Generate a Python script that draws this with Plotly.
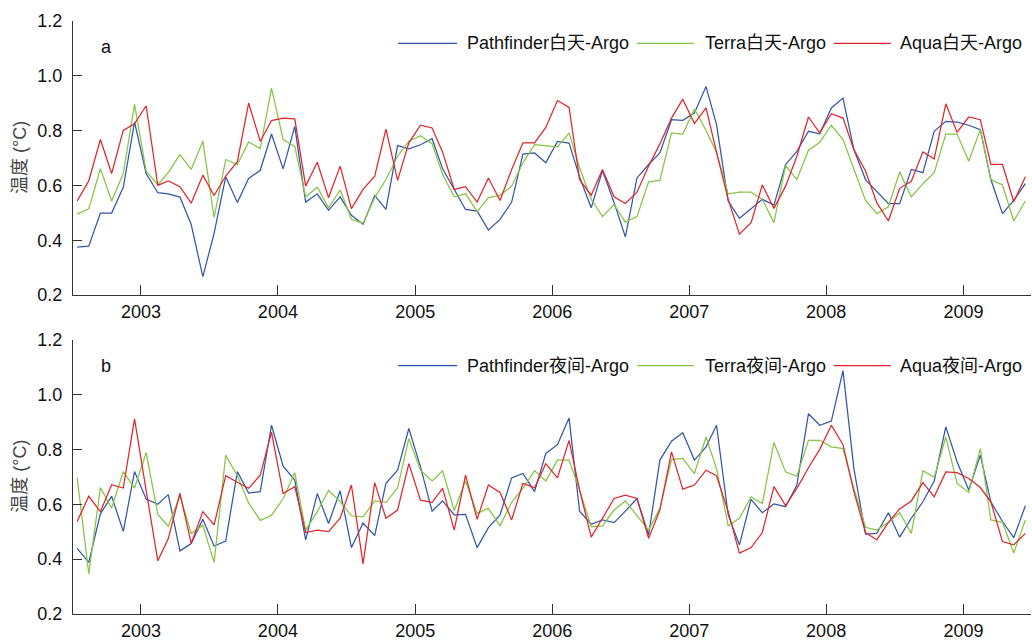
import pandas as pd
import plotly.graph_objects as go

# Monthly mean differences (satellite SST minus Argo), Jul 2002 - Jun 2009
months = pd.date_range("2002-07-01", periods=84, freq="MS") + pd.Timedelta(days=14)

year_ticks = [f"{y}-01-01" for y in range(2003, 2010)]
year_labels = [str(y) for y in range(2003, 2010)]
y_ticks = [0.2, 0.4, 0.6, 0.8, 1.0, 1.2]

day_pathfinder = [
    0.375, 0.378, 0.499, 0.499, 0.593, 0.830, 0.643, 0.573, 0.569, 0.557, 0.457, 0.267,
    0.425, 0.631, 0.537, 0.625, 0.655, 0.787, 0.660, 0.815, 0.539, 0.569, 0.509, 0.558,
    0.491, 0.458, 0.563, 0.512, 0.745, 0.733, 0.748, 0.770, 0.660, 0.585, 0.512, 0.506,
    0.437, 0.476, 0.539, 0.714, 0.718, 0.682, 0.760, 0.754, 0.630, 0.518, 0.654, 0.537,
    0.412, 0.627, 0.676, 0.718, 0.839, 0.837, 0.863, 0.960, 0.821, 0.543, 0.480, 0.515,
    0.549, 0.528, 0.676, 0.724, 0.797, 0.788, 0.882, 0.918, 0.730, 0.621, 0.579, 0.533,
    0.533, 0.658, 0.646, 0.797, 0.833, 0.830, 0.819, 0.803, 0.621, 0.497, 0.545, 0.606,
]
day_terra = [
    0.495, 0.514, 0.661, 0.543, 0.643, 0.895, 0.652, 0.602, 0.647, 0.712, 0.658, 0.761,
    0.483, 0.694, 0.676, 0.758, 0.734, 0.954, 0.767, 0.742, 0.558, 0.593, 0.518, 0.583,
    0.476, 0.462, 0.555, 0.621, 0.706, 0.761, 0.781, 0.752, 0.639, 0.558, 0.569, 0.504,
    0.555, 0.563, 0.597, 0.682, 0.748, 0.745, 0.740, 0.791, 0.664, 0.549, 0.486, 0.530,
    0.466, 0.486, 0.613, 0.618, 0.791, 0.787, 0.878, 0.800, 0.720, 0.569, 0.575, 0.575,
    0.549, 0.464, 0.672, 0.621, 0.728, 0.757, 0.819, 0.767, 0.658, 0.545, 0.497, 0.522,
    0.649, 0.558, 0.606, 0.646, 0.787, 0.787, 0.688, 0.803, 0.621, 0.601, 0.470, 0.543,
]
day_aqua = [
    0.543, 0.616, 0.767, 0.643, 0.800, 0.824, 0.890, 0.600, 0.616, 0.595, 0.535, 0.637,
    0.563, 0.634, 0.686, 0.900, 0.760, 0.836, 0.845, 0.842, 0.597, 0.684, 0.555, 0.670,
    0.515, 0.585, 0.633, 0.805, 0.618, 0.755, 0.819, 0.809, 0.721, 0.585, 0.595, 0.539,
    0.627, 0.545, 0.658, 0.755, 0.755, 0.811, 0.909, 0.884, 0.621, 0.564, 0.658, 0.558,
    0.534, 0.575, 0.670, 0.751, 0.845, 0.914, 0.825, 0.882, 0.720, 0.549, 0.422, 0.464,
    0.601, 0.516, 0.597, 0.706, 0.849, 0.791, 0.861, 0.845, 0.730, 0.652, 0.537, 0.470,
    0.589, 0.615, 0.722, 0.696, 0.897, 0.793, 0.849, 0.839, 0.676, 0.676, 0.540, 0.631,
]

night_pathfinder = [
    0.439, 0.388, 0.565, 0.629, 0.501, 0.719, 0.619, 0.600, 0.635, 0.430, 0.457, 0.545,
    0.448, 0.466, 0.719, 0.641, 0.646, 0.888, 0.739, 0.688, 0.470, 0.639, 0.530, 0.649,
    0.442, 0.531, 0.486, 0.676, 0.724, 0.876, 0.736, 0.575, 0.612, 0.561, 0.563, 0.442,
    0.515, 0.561, 0.696, 0.712, 0.646, 0.785, 0.817, 0.914, 0.575, 0.527, 0.543, 0.533,
    0.575, 0.621, 0.488, 0.761, 0.830, 0.861, 0.761, 0.809, 0.888, 0.561, 0.452, 0.618,
    0.569, 0.601, 0.591, 0.670, 0.930, 0.888, 0.903, 1.087, 0.730, 0.491, 0.494, 0.569,
    0.480, 0.549, 0.609, 0.685, 0.882, 0.755, 0.652, 0.779, 0.609, 0.537, 0.478, 0.595,
]
night_terra = [
    0.698, 0.346, 0.661, 0.586, 0.719, 0.659, 0.788, 0.563, 0.520, 0.631, 0.493, 0.523,
    0.388, 0.778, 0.704, 0.605, 0.541, 0.560, 0.620, 0.715, 0.506, 0.573, 0.650, 0.610,
    0.558, 0.554, 0.612, 0.607, 0.660, 0.839, 0.724, 0.685, 0.722, 0.577, 0.685, 0.567,
    0.585, 0.522, 0.607, 0.658, 0.722, 0.685, 0.761, 0.761, 0.652, 0.518, 0.521, 0.579,
    0.612, 0.561, 0.506, 0.585, 0.763, 0.767, 0.712, 0.845, 0.730, 0.522, 0.549, 0.627,
    0.603, 0.825, 0.718, 0.702, 0.833, 0.833, 0.809, 0.803, 0.658, 0.516, 0.506, 0.534,
    0.569, 0.494, 0.722, 0.698, 0.845, 0.676, 0.643, 0.803, 0.543, 0.534, 0.422, 0.543,
]
night_aqua = [
    0.537, 0.629, 0.573, 0.671, 0.659, 0.911, 0.650, 0.394, 0.475, 0.640, 0.457, 0.573,
    0.525, 0.704, 0.680, 0.658, 0.706, 0.863, 0.639, 0.664, 0.497, 0.506, 0.500, 0.549,
    0.670, 0.383, 0.679, 0.549, 0.579, 0.748, 0.615, 0.607, 0.658, 0.506, 0.706, 0.545,
    0.670, 0.643, 0.543, 0.676, 0.660, 0.748, 0.696, 0.833, 0.652, 0.480, 0.549, 0.621,
    0.633, 0.621, 0.476, 0.579, 0.791, 0.655, 0.670, 0.724, 0.704, 0.573, 0.422, 0.442,
    0.497, 0.664, 0.595, 0.658, 0.733, 0.800, 0.888, 0.817, 0.646, 0.497, 0.470, 0.534,
    0.583, 0.612, 0.679, 0.627, 0.718, 0.715, 0.694, 0.661, 0.609, 0.464, 0.452, 0.494,
]

BLUE = "#3357a8"
GREEN = "#86c444"
RED = "#e0262d"
AXIS = "#333333"
FONT = "Liberation Sans, Arial, Noto Sans CJK SC, sans-serif"

W, H = 1032, 642
ML, MR, MT, MB = 73, 1, 20, 26
PW, PH = W - ML - MR, H - MT - MB


def px(xp):
    return (xp - ML) / PW


def py(yp):
    return (H - MB - yp) / PH


panels = [
    dict(key="a", data=[day_pathfinder, day_terra, day_aqua],
         names=["Pathfinder白天-Argo", "Terra白天-Argo", "Aqua白天-Argo"],
         top=20.7, bottom=296.0, legend_y=43.5, label_y=47),
    dict(key="b", data=[night_pathfinder, night_terra, night_aqua],
         names=["Pathfinder夜间-Argo", "Terra夜间-Argo", "Aqua夜间-Argo"],
         top=340.7, bottom=616.0, legend_y=366.7, label_y=367),
]
colors = [BLUE, GREEN, RED]

# legend layout: line start/end and text start in pixels
legend_cols = [(398, 457, 465), (637, 694, 703), (834, 891, 898)]

fig = go.Figure()
annotations = []
shapes = []
layout_axes = {}

for n, p in enumerate(panels, start=1):
    xa = "x" if n == 1 else f"x{n}"
    ya = "y" if n == 1 else f"y{n}"
    for series, name, color in zip(p["data"], p["names"], colors):
        fig.add_trace(go.Scatter(
            x=months, y=series, name=name, mode="lines",
            line=dict(color=color, width=1.25),
            xaxis=xa, yaxis=ya, showlegend=False,
        ))

    dom = [py(p["bottom"]), py(p["top"])]
    sfx = "" if n == 1 else str(n)
    layout_axes[f"xaxis{sfx}"] = dict(
        domain=[0, 1], anchor=ya, type="date",
        range=["2002-07-04", "2009-06-30"],
        tickmode="array", tickvals=year_ticks, ticktext=year_labels,
        ticks="inside", ticklen=10, tickcolor=AXIS, tickwidth=1,
        showline=True, linecolor=AXIS, linewidth=1,
        showgrid=False, zeroline=False,
        tickfont=dict(family=FONT, size=18, color="#111111"),
    )
    layout_axes[f"yaxis{sfx}"] = dict(
        domain=dom, anchor=xa, range=[0.2, 1.2],
        tickmode="array", tickvals=y_ticks, tickformat=".1f",
        ticks="inside", ticklen=9, tickcolor=AXIS, tickwidth=1,
        showline=True, linecolor=AXIS, linewidth=1,
        showgrid=False, zeroline=False, ticklabelstandoff=6,
        tickfont=dict(family=FONT, size=18, color="#111111"),
    )

    # axis title
    annotations.append(dict(
        text="温度 (°C)", xref="paper", yref="paper",
        x=px(20), y=(dom[0] + dom[1]) / 2, textangle=-90,
        showarrow=False, xanchor="center", yanchor="middle",
        font=dict(family=FONT, size=18, color="#444444"),
    ))
    # panel letter
    annotations.append(dict(
        text=p["key"], xref="paper", yref="paper",
        x=px(106), y=py(p["label_y"]), showarrow=False,
        xanchor="center", yanchor="middle",
        font=dict(family=FONT, size=18, color="#111111"),
    ))
    # legend entries
    for (x0, x1, xt), name, color in zip(legend_cols, p["names"], colors):
        shapes.append(dict(
            type="line", xref="paper", yref="paper",
            x0=px(x0), x1=px(x1), y0=py(p["legend_y"]), y1=py(p["legend_y"]),
            line=dict(color=color, width=1.25),
        ))
        annotations.append(dict(
            text=name, xref="paper", yref="paper",
            x=px(xt), y=py(p["legend_y"]), showarrow=False,
            xanchor="left", yanchor="middle",
            font=dict(family=FONT, size=18, color="#111111"),
        ))

fig.update_layout(
    width=W, height=H,
    margin=dict(l=ML, r=MR, t=MT, b=MB),
    paper_bgcolor="white", plot_bgcolor="white",
    font=dict(family=FONT, size=18, color="#111111"),
    annotations=annotations, shapes=shapes,
    **layout_axes,
)

fig.write_html("out.html")
